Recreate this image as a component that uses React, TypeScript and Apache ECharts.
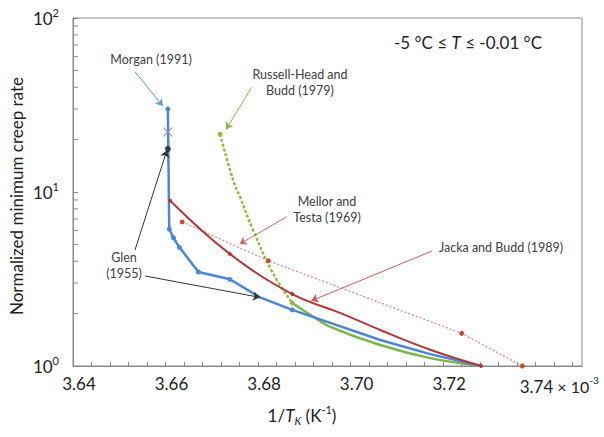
import React, { useEffect, useRef } from 'react';
import * as echarts from 'echarts';

const FONT = 'Lato, "Open Sans", "Liberation Sans", sans-serif';

// Morgan (1991) / Glen (1955) curve
const blueX = [3.6605, 3.6608, 3.6617, 3.663, 3.6671, 3.6739, 3.6804, 3.6874, 3.6956, 3.7064, 3.7172, 3.7283];
const blueY = [30, 6.12, 5.46, 4.81, 3.47, 3.15, 2.48, 2.1, 1.77, 1.41, 1.17, 1.0];
const blueMarked = [true, true, true, true, true, true, false, true, false, false, false, false];

// Mellor and Testa (1969)
const mellorX = [3.661, 3.6739, 3.6874, 3.6977, 3.7064, 3.7172, 3.7282];
const mellorY = [8.91, 4.41, 2.59, 2.02, 1.61, 1.24, 1.0];
const mellorMarked = [true, true, true, false, false, false, true];

// Jacka and Budd (1989)
const jackaX = [3.6636, 3.6822, 3.724, 3.7371];
const jackaY = [6.73, 4.03, 1.54, 1.0];

// Russell-Head and Budd (1979): dotted part, solid part
const russellDotX = [3.6718, 3.6746, 3.6761, 3.6789, 3.6832, 3.6874];
const russellDotY = [21.5, 11.7, 9.35, 6.05, 3.42, 2.3];
const russellDotMarked = [true, false, false, false, false, true];
const russellX = [3.6874, 3.6919, 3.6956, 3.7064, 3.7172, 3.7282];
const russellY = [2.3, 1.92, 1.68, 1.32, 1.11, 1.0];

// single points
const glenPoint = [3.6605, 17.7];
const crossPoint = [3.6605, 22.1];

// axis ticks / labels
const xTickLabels = [3.64, 3.66, 3.68, 3.7, 3.72, 3.74];
const yMinorTicks = [2, 3, 4, 5, 6, 7, 8, 9, 20, 30, 40, 50, 60, 70, 80, 90];

// annotation arrows (data coordinates: from -> to)
const arrowMorgan = [[3.6534, 49.1], [3.6594, 31.2]];
const arrowRussell = [[3.6786, 40.0], [3.6731, 22.9]];
const arrowMellor = [[3.6862, 7.21], [3.676, 5.02]];
const arrowJacka = [[3.7176, 4.58], [3.6915, 2.37]];
const arrowGlenUp = [[3.6534, 4.64], [3.6603, 17.4]];
const arrowGlenRight = [[3.6556, 3.29], [3.6804, 2.48]];

const BLUE = '#4a86d4';
const RED = '#b0393b';
const GREEN = '#7ab648';
const GREEN_DOT = '#8cbf3f';
const PINK = '#d5868b';
const JACKA_DOT = '#c0502c';
const TXT = '#404040';

function arrow(a: number[][], color: string) {
  return [
    { coord: a[0], lineStyle: { color, width: 1, type: 'solid' } },
    { coord: a[1] },
  ];
}

export default function App() {
  const ref = useRef<HTMLDivElement>(null);
  useEffect(() => {
    if (!ref.current) return;
    const chart = echarts.init(ref.current, null, { renderer: 'svg' });
    const xFmt = (v: number) => {
      const m = xTickLabels.find((t) => Math.abs(t - v) < 1e-6);
      if (m === undefined) return '';
      const s = m.toFixed(2);
      if (m === xTickLabels[xTickLabels.length - 1]) return `{pad|}${s}{t| × 10}{sup|-3}`;
      return `{sh|}${s}`;
    };
    const option: any = {
      animation: false,
      grid: {
        left: 73, right: 22, top: 18, bottom: 71, show: true, borderColor: '#888', borderWidth: 1,
        containLabel: false, outerBoundsMode: 'none',
      },
      xAxis: {
        type: 'value',
        min: 3.64,
        max: 3.75,
        interval: 0.004,
        axisLine: { show: true, onZero: false, lineStyle: { color: '#888', width: 1 } },
        axisTick: { show: true, inside: true, length: 4, lineStyle: { color: '#888' } },
        splitLine: { show: false },
        axisLabel: {
          showMaxLabel: false,
          margin: 9,
          color: '#222',
          fontSize: 17,
          fontFamily: FONT,
          formatter: xFmt,
          rich: {
            sh: { width: 12 },
            pad: { width: 47 },
            t: { fontSize: 16, fontFamily: FONT, color: '#222', lineHeight: 22 },
            sup: { fontSize: 10, fontFamily: FONT, color: '#222', lineHeight: 12, verticalAlign: 'top' },
          },
        },
      },
      yAxis: {
        type: 'log',
        logBase: 10,
        min: 1,
        max: 100,
        axisLine: { show: true, lineStyle: { color: '#888', width: 1 } },
        axisTick: { show: true, inside: true, length: 5, lineStyle: { color: '#888' } },
        splitLine: { show: false },
        axisLabel: {
          margin: 14,
          formatter: (v: number) => `{b|10}{s|${Math.round(Math.log10(v))}}`,
          rich: {
            b: { fontSize: 17, fontFamily: FONT, color: '#222', lineHeight: 22 },
            s: { fontSize: 11, fontFamily: FONT, color: '#222', lineHeight: 12, verticalAlign: 'top' },
          },
        },
      },
      series: [
        {
          type: 'custom',
          silent: true,
          clip: false,
          z: 5,
          data: yMinorTicks.map((v) => [3.64, v]),
          renderItem: (params: any, api: any) => {
            const p = api.coord([api.value(0), api.value(1)]);
            return { type: 'line', shape: { x1: p[0], y1: p[1], x2: p[0] + 5, y2: p[1] }, style: { stroke: '#888', lineWidth: 1 } };
          },
        },
        {
          name: 'Jacka and Budd (1989)',
          type: 'line',
          silent: true,
          data: jackaX.map((x, i) => [x, jackaY[i]]),
          symbol: 'circle',
          symbolSize: 5,
          itemStyle: { color: JACKA_DOT },
          lineStyle: { color: PINK, width: 1.2, type: [2, 2] },
          markLine: {
            silent: true,
            symbol: ['none', 'arrow'],
            symbolSize: 7,
            label: { show: false },
            emphasis: { disabled: true },
            data: [
              arrow(arrowMorgan, '#5b9bd5'),
              arrow(arrowRussell, '#8db551'),
              arrow(arrowMellor, '#d0676a'),
              arrow(arrowJacka, '#c9595c'),
              arrow(arrowGlenUp, '#333333'),
              arrow(arrowGlenRight, '#333333'),
            ],
          },
        },
        {
          name: 'Russell-Head and Budd (1979) dotted',
          type: 'line',
          silent: true,
          smooth: 0.4,
          data: russellDotX.map((x, i) => ({ value: [x, russellDotY[i]], symbol: russellDotMarked[i] ? 'circle' : 'none' })),
          symbolSize: 5,
          itemStyle: { color: GREEN_DOT },
          lineStyle: { color: GREEN_DOT, width: 2.5, type: [3, 2] },
        },
        {
          name: 'Russell-Head and Budd (1979)',
          type: 'line',
          silent: true,
          smooth: 0.4,
          showSymbol: false,
          data: russellX.map((x, i) => [x, russellY[i]]),
          itemStyle: { color: GREEN },
          lineStyle: { color: GREEN, width: 2.5 },
        },
        {
          name: 'Morgan (1991)',
          type: 'line',
          silent: true,
          data: blueX.map((x, i) => ({ value: [x, blueY[i]], symbol: blueMarked[i] ? 'circle' : 'none' })),
          symbolSize: 5,
          itemStyle: { color: BLUE },
          lineStyle: { color: BLUE, width: 2.5 },
        },
        {
          name: 'Mellor and Testa (1969)',
          type: 'line',
          silent: true,
          smooth: 0.4,
          data: mellorX.map((x, i) => ({ value: [x, mellorY[i]], symbol: mellorMarked[i] ? 'circle' : 'none' })),
          symbolSize: 4,
          itemStyle: { color: RED },
          lineStyle: { color: RED, width: 2 },
        },
        {
          name: 'Glen (1955)',
          type: 'scatter',
          silent: true,
          data: [glenPoint],
          symbol: 'circle',
          symbolSize: 6,
          itemStyle: { color: '#222' },
          z: 10,
        },
        {
          name: 'cross',
          type: 'scatter',
          silent: true,
          data: [crossPoint],
          symbol: 'path://M0,1L1,0L5,4L9,0L10,1L6,5L10,9L9,10L5,6L1,10L0,9L4,5Z',
          symbolSize: 10,
          itemStyle: { color: '#9a9a9a' },
          z: 10,
        },
      ],
      graphic: [
        {
          type: 'text', x: 468, y: 42, silent: true,
          style: {
            text: '-5 °C ≤ {i|T} ≤ -0.01 °C', fontSize: 17, fontFamily: FONT, fill: '#222', align: 'center', verticalAlign: 'middle',
            rich: { i: { fontSize: 17, fontFamily: FONT, fontStyle: 'italic', fill: '#222' } },
          },
        },
        {
          type: 'text', x: 16, y: 196, rotation: Math.PI / 2, silent: true,
          style: { text: 'Normalized minimum creep rate', fontSize: 17, fontFamily: FONT, fill: '#222', align: 'center', verticalAlign: 'middle' },
        },
        {
          type: 'text', x: 302, y: 415, silent: true,
          style: {
            text: '1/{i|T}{sub|K} (K{sup|-1})', fontSize: 17, fontFamily: FONT, fill: '#222', align: 'center', verticalAlign: 'middle', lineHeight: 22,
            rich: {
              i: { fontSize: 17, fontFamily: FONT, fontStyle: 'italic', fill: '#222', lineHeight: 22 },
              sub: { fontSize: 11, fontFamily: FONT, fontStyle: 'italic', fill: '#222', lineHeight: 12, verticalAlign: 'bottom' },
              sup: { fontSize: 11, fontFamily: FONT, fill: '#222', lineHeight: 12, verticalAlign: 'top' },
            },
          },
        },
        { type: 'text', x: 151, y: 59, silent: true, style: { text: 'Morgan (1991)', fontSize: 12.5, fontFamily: FONT, fill: TXT, align: 'center', verticalAlign: 'middle' } },
        { type: 'text', x: 300, y: 82, silent: true, style: { text: 'Russell-Head and\nBudd (1979)', fontSize: 12.5, lineHeight: 16, fontFamily: FONT, fill: TXT, align: 'center', verticalAlign: 'middle' } },
        { type: 'text', x: 327, y: 209, silent: true, style: { text: 'Mellor and\nTesta (1969)', fontSize: 12.5, lineHeight: 16, fontFamily: FONT, fill: TXT, align: 'center', verticalAlign: 'middle' } },
        { type: 'text', x: 501, y: 247, silent: true, style: { text: 'Jacka and Budd (1989)', fontSize: 12.5, fontFamily: FONT, fill: TXT, align: 'center', verticalAlign: 'middle' } },
        { type: 'text', x: 124, y: 265, silent: true, style: { text: 'Glen\n(1955)', fontSize: 12.5, lineHeight: 16, fontFamily: FONT, fill: TXT, align: 'center', verticalAlign: 'middle' } },
      ],
    };
    chart.setOption(option);
    return () => chart.dispose();
  }, []);
  return <div ref={ref} style={{ position: 'fixed', left: 0, top: 0, width: 604, height: 437, background: '#fff' }} />;
}
